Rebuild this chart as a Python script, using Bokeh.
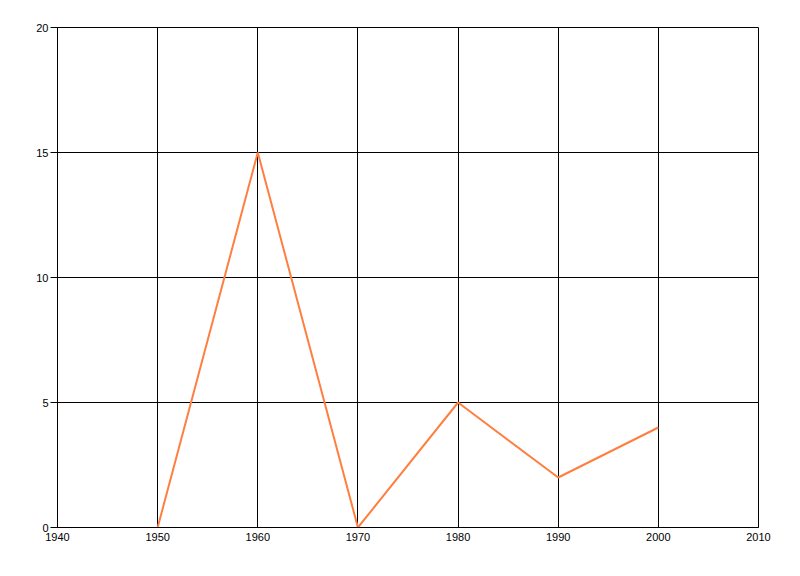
from bokeh.plotting import figure
from bokeh.models import Range1d, FixedTicker
from bokeh.embed import file_html
from bokeh.resources import INLINE

years = [1950, 1960, 1970, 1980, 1990, 2000]
values = [0, 15, 0, 5, 2, 4]
x_ticks = [1940, 1950, 1960, 1970, 1980, 1990, 2000, 2010]
y_ticks = [0, 5, 10, 15, 20]

p = figure(width=792, height=560, output_backend="svg", toolbar_location=None,
           x_range=Range1d(1940, 2010), y_range=Range1d(0, 20),
           min_border_left=57, min_border_right=34, min_border_top=27, min_border_bottom=33)

p.line(years, values, line_color="#FF7F40", line_width=2)

p.outline_line_color = "black"
p.outline_line_width = 1
p.outline_line_alpha = 1

for g in (p.xgrid, p.ygrid):
    g.grid_line_color = "black"
    g.grid_line_width = 1
    g.grid_line_alpha = 1
p.xgrid.ticker = FixedTicker(ticks=x_ticks)
p.ygrid.ticker = FixedTicker(ticks=y_ticks)

for ax in (p.xaxis, p.yaxis):
    ax.axis_line_color = "black"
    ax.major_tick_line_color = "black"
    ax.minor_tick_line_color = None
    ax.major_label_text_font = "Liberation Sans"
    ax.major_label_text_font_size = "11px"
    ax.major_label_text_color = "black"
    ax.major_tick_in = 0

p.xaxis.ticker = FixedTicker(ticks=x_ticks)
p.yaxis.ticker = FixedTicker(ticks=y_ticks)
p.xaxis.major_tick_out = 0
p.xaxis.major_label_standoff = 5
p.yaxis.major_tick_out = 7
p.yaxis.major_label_standoff = 2

p.background_fill_color = "white"
p.border_fill_color = "white"

open("out.html", "w").write(file_html(p, INLINE))
